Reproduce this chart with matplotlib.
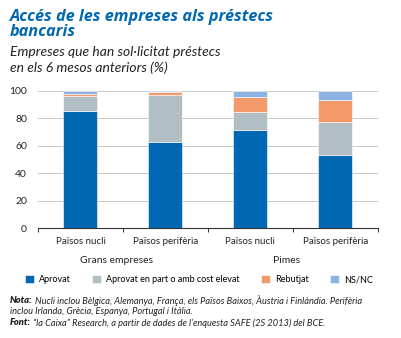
import matplotlib
matplotlib.use("Agg")
import matplotlib.pyplot as plt
import numpy as np

plt.rcParams['font.family'] = ['Lato', 'DejaVu Sans']

categories = ['Països nucli', 'Països perifèria', 'Països nucli', 'Països perifèria']
groups = ['Grans empreses', 'Pimes']
series_names = ['Aprovat', 'Aprovat en part o amb cost elevat', 'Rebutjat', 'NS/NC']
aprovat = [85.5, 63, 71.5, 53]
aprovat_part = [11, 34, 13, 24.5]
rebutjat = [1.5, 2.5, 11, 16]
nsnc = [2, 0.5, 4.5, 6.5]
colors = ['#0068b3', '#b1bec3', '#f39a6b', '#8db3e2']

fig = plt.figure(figsize=(4.02, 3.38), dpi=100)
ax = fig.add_axes([0.0945, 0.3245, 0.8455, 0.4065])

x = np.arange(len(categories))
bottom = np.zeros(len(categories))
for vals, name, c in zip([aprovat, aprovat_part, rebutjat, nsnc], series_names, colors):
    ax.bar(x, vals, width=0.4, bottom=bottom, color=c, label=name,
           edgecolor='white', linewidth=0.4, zorder=3)
    bottom += np.array(vals)

ax.set_xlim(-0.5, 3.5)
ax.set_ylim(0, 100)
ax.set_yticks(range(0, 101, 20))
ax.yaxis.grid(True, color='#c8c8c8', linewidth=0.7, zorder=0)
ax.tick_params(axis='y', length=0, labelsize=7.5, pad=8, colors='#222222')
for s in ['top', 'right', 'left']:
    ax.spines[s].set_visible(False)
ax.spines['bottom'].set_color('#333333')
ax.spines['bottom'].set_linewidth(0.8)

ax.set_xticks(x)
ax.set_xticklabels(categories, fontsize=7, color='#222222')
ax.tick_params(axis='x', length=0, pad=6)
ax.set_xticks(np.arange(-0.5, 4, 1), minor=True)
ax.tick_params(axis='x', which='minor', length=3, width=0.7, color='#333333', direction='out')

# group labels
for xpos, g in zip([0.42, 2.43], groups):
    ax.text(xpos, -0.235, g, transform=ax.get_xaxis_transform(),
            ha='center', va='center', fontsize=7.5, color='#222222')

# title and subtitle
fig.text(0.025, 0.928, 'Accés de les empreses als préstecs\nbancaris', fontsize=11.7,
         family=['Open Sans', 'DejaVu Sans'], fontweight='bold', fontstyle='italic',
         color='#0068b3', va='center', linespacing=0.9)
fig.text(0.025, 0.822, 'Empreses que han sol·licitat préstecs\nen els 6 mesos anteriors (%)',
         fontsize=10, fontstyle='italic', color='#222222', va='center', linespacing=1.3)

fig.legend(loc='center', bbox_to_anchor=(0.495, 0.172), ncol=4, frameon=False,
           fontsize=6.5, handlelength=1.0, handleheight=1.0, handletextpad=0.5,
           columnspacing=2.4)

notes = [
    ('Nota:', 'Nucli inclou Bèlgica, Alemanya, França, els Països Baixos, Àustria i Finlàndia. Perifèria', 0.110),
    ('', 'inclou Irlanda, Grècia, Espanya, Portugal i Itàlia.', 0.077),
    ('Font:', '“la Caixa” Research, a partir de dades de l’enquesta SAFE (2S 2013) del BCE.', 0.045),
]
for bold, rest, yy in notes:
    if bold:
        t = fig.text(0.025, yy, bold, fontsize=6.7, fontweight='heavy', fontstyle='italic',
                     color='#222222', va='center')
        ax.annotate(rest, xy=(1, 0.5), xycoords=t, xytext=(1.5, 0), textcoords='offset points',
                    va='center', ha='left', fontsize=6.7, fontstyle='italic', color='#222222')
    else:
        fig.text(0.025, yy, rest, fontsize=6.7, fontstyle='italic', color='#222222', va='center')

fig.savefig('out.png', dpi=100)
